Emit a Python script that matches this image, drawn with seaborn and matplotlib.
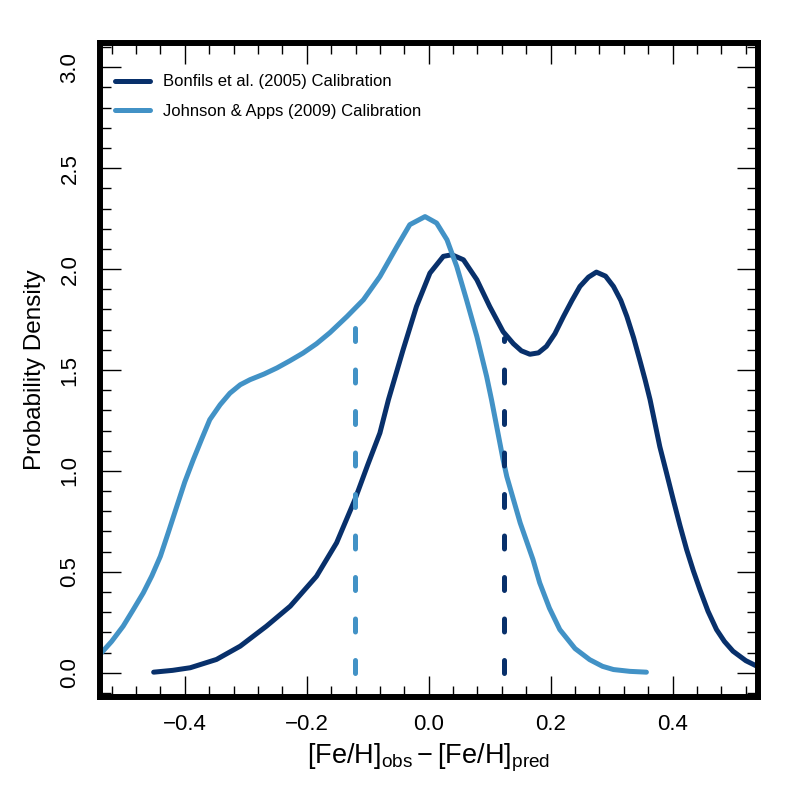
import matplotlib
matplotlib.use("Agg")
import matplotlib.pyplot as plt
import seaborn as sns
import pandas as pd
from matplotlib.ticker import MultipleLocator

# density curve: Bonfils et al. (2005) calibration
bonfils_x = [-0.451, -0.420, -0.391, -0.348, -0.309, -0.266, -0.227, -0.184, -0.151, -0.121,
             -0.100, -0.080, -0.066, -0.042, -0.020, 0.002, 0.024, 0.038, 0.057, 0.079,
             0.100, 0.122, 0.139, 0.152, 0.166, 0.180, 0.193, 0.207, 0.221, 0.235, 0.248,
             0.262, 0.275, 0.290, 0.303, 0.315, 0.325, 0.336, 0.346, 0.355, 0.363, 0.379,
             0.390, 0.401, 0.412, 0.423, 0.434, 0.445, 0.458, 0.472, 0.485, 0.499, 0.520, 0.540]
bonfils_y = [0.003, 0.012, 0.025, 0.066, 0.132, 0.231, 0.330, 0.478, 0.644, 0.858,
             1.030, 1.188, 1.353, 1.600, 1.815, 1.980, 2.063, 2.071, 2.046, 1.947,
             1.815, 1.690, 1.630, 1.595, 1.578, 1.585, 1.617, 1.680, 1.765, 1.845, 1.914,
             1.960, 1.985, 1.965, 1.914, 1.845, 1.765, 1.660, 1.551, 1.450, 1.353, 1.120,
             0.990, 0.858, 0.730, 0.610, 0.505, 0.410, 0.305, 0.214, 0.155, 0.107, 0.060, 0.030]

# density curve: Johnson & Apps (2009) calibration
johnson_x = [-0.539, -0.520, -0.501, -0.485, -0.468, -0.454, -0.440, -0.427, -0.413, -0.400,
             -0.386, -0.372, -0.359, -0.342, -0.326, -0.309, -0.293, -0.270, -0.249, -0.228,
             -0.206, -0.184, -0.162, -0.134, -0.107, -0.080, -0.052, -0.031, -0.006, 0.013,
             0.030, 0.046, 0.062, 0.079, 0.095, 0.103, 0.122, 0.128, 0.150, 0.171, 0.182,
             0.198, 0.215, 0.240, 0.264, 0.285, 0.303, 0.330, 0.357]
johnson_y = [0.091, 0.155, 0.231, 0.310, 0.396, 0.480, 0.577, 0.695, 0.825, 0.945,
             1.056, 1.160, 1.254, 1.328, 1.385, 1.427, 1.452, 1.480, 1.510, 1.545,
             1.584, 1.630, 1.685, 1.765, 1.848, 1.963, 2.112, 2.220, 2.260, 2.228,
             2.145, 2.013, 1.848, 1.666, 1.468, 1.353, 1.056, 0.973, 0.743, 0.561, 0.446,
             0.320, 0.214, 0.120, 0.065, 0.032, 0.016, 0.007, 0.003]

# vertical dashed markers (x position, height)
mark_x = [-0.121, 0.124]
mark_top = [1.76, 1.66]

names = ["Bonfils et al. (2005) Calibration", "Johnson & Apps (2009) Calibration"]
colors = ["#08306B", "#4292C6"]

sns.set_theme(style="white")
plt.rcParams["font.family"] = ["Liberation Sans", "DejaVu Sans"]
plt.rcParams["text.color"] = "black"
plt.rcParams["axes.labelcolor"] = "black"
plt.rcParams["xtick.color"] = "black"
plt.rcParams["ytick.color"] = "black"
plt.rcParams["mathtext.fontset"] = "custom"
plt.rcParams["mathtext.rm"] = "Liberation Sans"
plt.rcParams["mathtext.it"] = "Liberation Sans:italic"

fig = plt.figure(figsize=(8, 8), dpi=100)
ax = fig.add_axes([100 / 800, 103 / 800, 658 / 800, 654 / 800])

df_b = pd.DataFrame({"x": bonfils_x, "y": bonfils_y})
df_j = pd.DataFrame({"x": johnson_x, "y": johnson_y})

sns.lineplot(data=df_b, x="x", y="y", color=colors[0], lw=3.6, ax=ax,
             label=names[0], solid_capstyle="round", sort=False)
sns.lineplot(data=df_j, x="x", y="y", color=colors[1], lw=3.6, ax=ax,
             label=names[1], solid_capstyle="round", sort=False)

# dashed lines, light one at negative x, dark one at positive x
for xv, top, c in zip(mark_x, mark_top, [colors[1], colors[0]]):
    ax.plot([xv, xv], [0, top], color=c, lw=3.6, dashes=(2.6, 5.7),
            dash_capstyle="round")

ax.set_xlim(-0.539, 0.540)
ax.set_ylim(-0.12, 3.12)

ax.xaxis.set_major_locator(MultipleLocator(0.2))
ax.xaxis.set_minor_locator(MultipleLocator(0.04))
ax.yaxis.set_major_locator(MultipleLocator(0.5))
ax.yaxis.set_minor_locator(MultipleLocator(0.1))
ax.tick_params(which="both", direction="in", top=True, right=True,
               bottom=True, left=True, color="black", width=1.0)
ax.tick_params(which="major", length=15)
ax.tick_params(which="minor", length=7.7)
ax.tick_params(axis="x", labelsize=16, pad=12)
ax.tick_params(axis="y", labelsize=16, pad=14)
for lbl in ax.get_yticklabels():
    lbl.set_rotation(90)
    lbl.set_va("center")

for s in ax.spines.values():
    s.set_visible(True)
    s.set_color("black")
    s.set_linewidth(4.3)

ax.set_xlabel(r"$\mathrm{[Fe/H]_{obs}-[Fe/H]_{pred}}$", fontsize=19.5, labelpad=5)
ax.set_ylabel("Probability Density", fontsize=17.5, labelpad=10)

ax.legend(loc="upper left", bbox_to_anchor=(0.023, 0.952), frameon=False,
          fontsize=12, handlelength=2.1, handletextpad=0.8, labelspacing=0.88,
          borderpad=0, borderaxespad=0)

plt.savefig("out.png", dpi=100)
